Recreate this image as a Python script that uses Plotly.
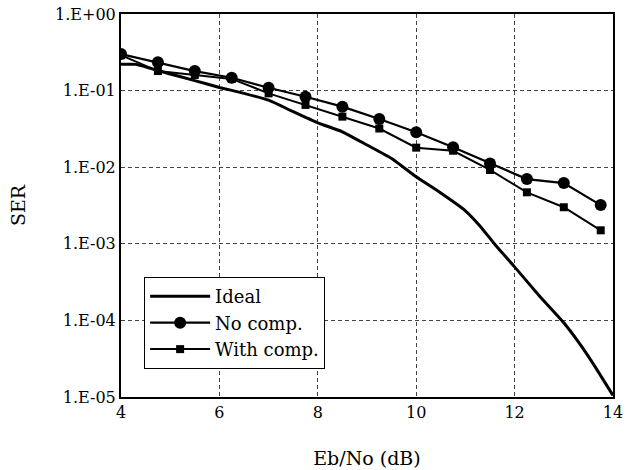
import plotly.graph_objects as go

# Data
ebno_markers = [4.0, 4.75, 5.5, 6.25, 7.0, 7.75, 8.5, 9.25, 10.0, 10.75, 11.5, 12.25, 13.0, 13.75]
ser_no_comp = [0.30, 0.235, 0.18, 0.147, 0.109, 0.083, 0.0617, 0.0426, 0.0286, 0.0182, 0.0112, 0.0070, 0.0062, 0.0032]
ser_with_comp = [0.29, 0.18, 0.16, 0.142, 0.092, 0.065, 0.0457, 0.032, 0.018, 0.0164, 0.0092, 0.0047, 0.0030, 0.0015]

ebno_ideal = [4.0, 4.3, 4.6, 5.0, 5.5, 6.0, 6.5, 7.0, 7.5, 8.0, 8.5, 9.0, 9.5, 10.0, 10.5, 11.0, 11.3, 11.6, 12.0, 12.5, 13.0, 13.5, 14.0]
ser_ideal = [0.22, 0.22, 0.195, 0.165, 0.135, 0.110, 0.092, 0.075, 0.053, 0.038, 0.029, 0.0195, 0.013, 0.0075, 0.0046, 0.0027, 0.0017, 0.00098, 0.0005, 0.00021, 0.000093, 0.000034, 0.0000105]

y_tickvals = [1, 1e-1, 1e-2, 1e-3, 1e-4, 1e-5]
y_ticktext = ["1.E+00", "1.E-01", "1.E-02", "1.E-03", "1.E-04", "1.E-05"]
x_tickvals = [4, 6, 8, 10, 12, 14]

font_family = "DejaVu Serif"

fig = go.Figure()
fig.add_trace(go.Scatter(x=ebno_ideal, y=ser_ideal, mode="lines", name="Ideal",
                         line=dict(color="black", width=3, shape="spline", smoothing=0.5)))
fig.add_trace(go.Scatter(x=ebno_markers, y=ser_no_comp, mode="lines+markers", name="No comp.",
                         line=dict(color="black", width=2.2),
                         marker=dict(symbol="circle", size=12, color="black")))
fig.add_trace(go.Scatter(x=ebno_markers, y=ser_with_comp, mode="lines+markers", name="With comp.",
                         line=dict(color="black", width=2),
                         marker=dict(symbol="square", size=8, color="black")))

fig.update_layout(
    width=633, height=470,
    margin=dict(l=121, r=20, t=14, b=73),
    paper_bgcolor="white", plot_bgcolor="white",
    font=dict(family=font_family, size=16, color="black"),
    showlegend=True,
    legend=dict(x=0.047, y=0.313, xanchor="left", yanchor="top",
                bgcolor="white", bordercolor="black", borderwidth=1,
                font=dict(family=font_family, size=18),
                tracegroupgap=2, itemwidth=60),
)
fig.update_xaxes(
    range=[4, 14], tickvals=x_tickvals, ticks="", showline=True, linecolor="black",
    linewidth=2, mirror=True, showgrid=True, gridcolor="#444", griddash="4px,3px", gridwidth=1,
    zeroline=False, title=dict(text="Eb/No (dB)", standoff=30), automargin=False,
    tickfont=dict(family=font_family, size=16),
)
fig.update_yaxes(
    type="log", range=[-5, 0], tickvals=y_tickvals, ticktext=y_ticktext, ticks="",
    showline=True, linecolor="black", linewidth=2, mirror=True,
    showgrid=True, gridcolor="#444", griddash="4px,3px", gridwidth=1,
    zeroline=False, title=dict(text="SER", standoff=24), automargin=False,
    tickfont=dict(family=font_family, size=16),
)
fig.write_html("out.html")
